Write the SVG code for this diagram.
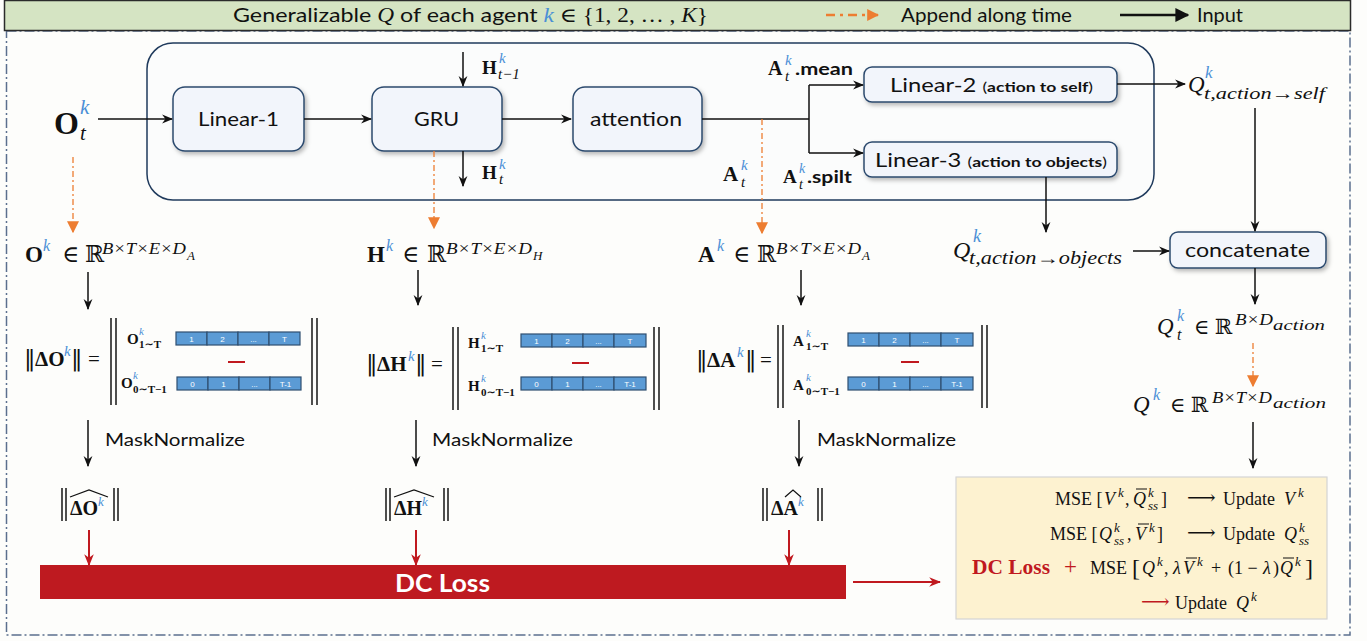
<svg xmlns="http://www.w3.org/2000/svg" width="1367" height="641" viewBox="0 0 1367 641">
<defs>
<style>
.sans{font-family:Lato,"Open Sans","Liberation Sans",sans-serif;fill:#111}
.ser{font-family:"Liberation Serif","DejaVu Serif",serif;fill:#111}
.dj{font-family:"DejaVu Serif",serif}
.it{font-style:italic}
.bd{font-weight:bold}
.nb{font-weight:normal}
.kb{fill:#4a8fd6}
.red{fill:#c0191f}
.node{fill:#f2f5fb;stroke:#2c4a6e;stroke-width:1.5;filter:url(#sh)}
.ln{fill:none;stroke:#111;stroke-width:1.5}
.or{fill:none;stroke:#ed7d31;stroke-width:1.3;stroke-dasharray:6 3 2 3}
.rd{fill:none;stroke:#c0191f;stroke-width:2}
.cell{fill:#5b9bd5;stroke:#2f4f70;stroke-width:1.2}
.ct{font-family:"Liberation Sans",sans-serif;font-size:8px;fill:#fff;text-anchor:middle}
.bar{stroke:#222;stroke-width:1.6}
.ovl{stroke:#111;stroke-width:1}
</style>
<filter id="sh" x="-10%" y="-10%" width="130%" height="140%"><feDropShadow dx="2" dy="2.5" stdDeviation="2" flood-color="#000" flood-opacity="0.28"/></filter>
<marker id="ah" viewBox="0 0 10 10" refX="9" refY="5" markerWidth="11" markerHeight="11" markerUnits="userSpaceOnUse" orient="auto"><path d="M0,1 L10,5 L0,9 L3,5 z" fill="#111"/></marker>
<marker id="ahr" viewBox="0 0 10 10" refX="9" refY="5" markerWidth="12" markerHeight="12" markerUnits="userSpaceOnUse" orient="auto"><path d="M0,1 L10,5 L0,9 L3,5 z" fill="#c0191f"/></marker>
<marker id="aho" viewBox="0 0 10 10" refX="9" refY="5" markerWidth="12" markerHeight="12" markerUnits="userSpaceOnUse" orient="auto"><path d="M0,0 L10,5 L0,10 z" fill="#ed7d31"/></marker>
<marker id="ahl" viewBox="0 0 10 10" refX="9" refY="5" markerWidth="14" markerHeight="14" markerUnits="userSpaceOnUse" orient="auto"><path d="M0,0 L10,5 L0,10 z" fill="#111"/></marker>
</defs>
<rect width="1367" height="641" fill="#fdfdfb"/>
<rect x="6.5" y="31" width="1343.5" height="604" fill="none" stroke="#5b6f8e" stroke-width="1.5" stroke-dasharray="10 3 2 3"/>
<g id="header">
<rect x="4.5" y="0.5" width="1346" height="30" fill="#d5e4c3" stroke="#2b2b2b" stroke-width="1.5"/>
<text x="233" y="22" class="sans" font-size="20" textLength="475" lengthAdjust="spacingAndGlyphs">Generalizable <tspan class="ser it">Q</tspan> of each agent <tspan class="ser it kb">k</tspan><tspan class="ser"> ∈ {1, 2, … , </tspan><tspan class="ser it">K</tspan><tspan class="ser">}</tspan></text>
<line x1="826" y1="15" x2="878" y2="15" stroke="#ed7d31" stroke-width="2.5" stroke-dasharray="9 5 3 5" marker-end="url(#aho)"/>
<text x="901" y="22" class="sans" font-size="20" textLength="171" lengthAdjust="spacingAndGlyphs">Append along time</text>
<line x1="1120" y1="15" x2="1188" y2="15" stroke="#111" stroke-width="2.5" marker-end="url(#ahl)"/>
<text x="1197" y="22" class="sans" font-size="20" textLength="46" lengthAdjust="spacingAndGlyphs">Input</text>
</g>
<g id="panel"><rect x="147" y="43" width="1007" height="157" rx="26" fill="#fbfcfc" stroke="#1f3a5c" stroke-width="1.5"/></g>
<g id="linear1"><rect class="node" x="173" y="87" width="131" height="64" rx="12"/><text x="198" y="126" class="sans" font-size="20" textLength="81" lengthAdjust="spacingAndGlyphs">Linear-1</text></g>
<g id="gru"><rect class="node" x="372" y="87" width="130" height="64" rx="12"/><text x="414" y="126" class="sans" font-size="20" textLength="45" lengthAdjust="spacingAndGlyphs">GRU</text></g>
<g id="attention"><rect class="node" x="573" y="87" width="129" height="64" rx="12"/><text x="590" y="126" class="sans" font-size="20" textLength="92" lengthAdjust="spacingAndGlyphs">attention</text></g>
<g id="linear2"><rect class="node" x="864" y="67" width="253" height="35" rx="8"/><text x="890" y="92" class="sans" font-size="19" textLength="203" lengthAdjust="spacingAndGlyphs">Linear-2 <tspan font-size="14">(</tspan><tspan font-size="14" font-weight="bold">action to self</tspan><tspan font-size="14">)</tspan></text></g>
<g id="linear3"><rect class="node" x="864" y="142" width="253" height="35" rx="8"/><text x="875" y="167" class="sans" font-size="19" textLength="232" lengthAdjust="spacingAndGlyphs">Linear-3 <tspan font-size="14">(</tspan><tspan font-size="14" font-weight="bold">action to objects</tspan><tspan font-size="14">)</tspan></text></g>
<g id="concatenate"><rect class="node" x="1170" y="232" width="156" height="36" rx="8"/><text x="1185" y="257" class="sans" font-size="20" textLength="125" lengthAdjust="spacingAndGlyphs">concatenate</text></g>

<g id="ot">
<text x="54" y="134" class="ser bd" font-size="32">O</text>
<text x="80" y="114" class="ser it kb" font-size="21">k</text>
<text x="80" y="140" class="ser it" font-size="21">t</text>
</g>
<g id="htm1">
<text x="482" y="74" class="ser bd" font-size="19">H</text>
<text x="499" y="63" class="ser it kb" font-size="15">k</text>
<text x="498" y="79" class="ser it" font-size="15">t−1</text>
</g>
<g id="ht">
<text x="482" y="179" class="ser bd" font-size="19">H</text>
<text x="499" y="169" class="ser it kb" font-size="15">k</text>
<text x="499" y="184" class="ser it" font-size="15">t</text>
</g>
<g id="amean">
<text x="768" y="75" class="ser bd" font-size="20">A</text>
<text x="785" y="65" class="ser it kb" font-size="15">k</text>
<text x="785" y="81" class="ser it" font-size="15">t</text>
<text x="795" y="75" class="sans bd" font-size="17" textLength="58" lengthAdjust="spacingAndGlyphs">.mean</text>
</g>
<g id="at">
<text x="723" y="181" class="ser bd" font-size="21">A</text>
<text x="741" y="170" class="ser it kb" font-size="15">k</text>
<text x="741" y="187" class="ser it" font-size="15">t</text>
</g>
<g id="aspilt">
<text x="783" y="183" class="ser bd" font-size="19">A</text>
<text x="799" y="173" class="ser it kb" font-size="14">k</text>
<text x="799" y="189" class="ser it" font-size="14">t</text>
<text x="807" y="183" class="sans bd" font-size="17" textLength="45" lengthAdjust="spacingAndGlyphs">.spilt</text>
</g>
<g id="qself">
<text x="1188" y="92" class="ser it" font-size="23">Q</text>
<text x="1205" y="78" class="ser it kb" font-size="17">k</text>
<text x="1204" y="99" class="ser it" font-size="17" textLength="121" lengthAdjust="spacingAndGlyphs">t,action→self</text>
</g>
<g id="qobj">
<text x="953" y="258" class="ser it" font-size="24">Q</text>
<text x="973" y="242" class="ser it kb" font-size="18">k</text>
<text x="969" y="264" class="ser it" font-size="18" textLength="153" lengthAdjust="spacingAndGlyphs">t,action→objects</text>
</g>
<g id="qt">
<text x="1157" y="334" class="ser it" font-size="23">Q</text>
<text x="1177" y="321" class="ser it kb" font-size="16">k</text>
<text x="1177" y="340" class="ser it" font-size="16">t</text>
<text x="1194" y="334" class="ser" font-size="21">∈ ℝ</text>
<text x="1235" y="325" class="ser it" font-size="16" textLength="38" lengthAdjust="spacingAndGlyphs">B×D</text>
<text x="1273" y="330" class="ser it" font-size="14" textLength="52" lengthAdjust="spacingAndGlyphs">action</text>
</g>
<g id="q">
<text x="1133" y="412" class="ser it" font-size="23">Q</text>
<text x="1153" y="400" class="ser it kb" font-size="16">k</text>
<text x="1170" y="412" class="ser" font-size="21">∈ ℝ</text>
<text x="1212" y="403" class="ser it" font-size="16" textLength="60" lengthAdjust="spacingAndGlyphs">B×T×D</text>
<text x="1273" y="408" class="ser it" font-size="14" textLength="53" lengthAdjust="spacingAndGlyphs">action</text>
</g>

<g id="colO">
<text y="262" class="ser" font-size="23"><tspan x="25" font-weight="bold">O</tspan><tspan x="43" y="251" class="it kb" font-size="16">k</tspan><tspan x="62" y="262">∈</tspan><tspan x="85">ℝ</tspan></text>
<text x="102" y="254" class="ser it" font-size="17" textLength="84" lengthAdjust="spacingAndGlyphs">B×T×E×D</text>
<text x="187" y="260" class="ser it" font-size="13">A</text>
<text y="366" class="ser" font-size="21"><tspan x="24" class="dj" font-size="23">‖</tspan><tspan x="35" font-weight="bold">ΔO</tspan><tspan x="64" y="356" class="it kb" font-size="15">k</tspan><tspan x="71" y="366" class="dj" font-size="23">‖</tspan><tspan x="88">=</tspan></text>
<line class="bar" x1="111" y1="318" x2="111" y2="405"/><line class="bar" x1="116" y1="318" x2="116" y2="405"/>
<line class="bar" x1="312" y1="318" x2="312" y2="405"/><line class="bar" x1="317" y1="318" x2="317" y2="405"/>
<text x="127" y="344" class="ser bd" font-size="15">O</text><text x="139" y="335" class="ser it kb" font-size="11">k</text><text x="139" y="348" class="ser bd" font-size="11">1∼T</text>
<text x="121" y="388" class="ser bd" font-size="15">O</text><text x="133" y="379" class="ser it kb" font-size="11">k</text><text x="133" y="393" class="ser bd" font-size="11">0∼T−1</text>
<g><rect class="cell" x="176" y="332" width="31" height="13"/><rect class="cell" x="207" y="332" width="31" height="13"/><rect class="cell" x="238" y="332" width="31" height="13"/><rect class="cell" x="269" y="332" width="31" height="13"/>
<text class="ct" x="191.5" y="342">1</text><text class="ct" x="222.5" y="342">2</text><text class="ct" x="253.5" y="342">...</text><text class="ct" x="284.5" y="342">T</text></g>
<line x1="228" y1="362" x2="245" y2="362" stroke="#c0191f" stroke-width="2"/>
<g><rect class="cell" x="177" y="377" width="31" height="13"/><rect class="cell" x="208" y="377" width="31" height="13"/><rect class="cell" x="239" y="377" width="31" height="13"/><rect class="cell" x="270" y="377" width="31" height="13"/>
<text class="ct" x="192.5" y="387">0</text><text class="ct" x="223.5" y="387">1</text><text class="ct" x="254.5" y="387">...</text><text class="ct" x="285.5" y="387">T-1</text></g>
<text x="105" y="446" class="sans" font-size="18" textLength="140" lengthAdjust="spacingAndGlyphs">MaskNormalize</text>
<line class="bar" x1="62" y1="488" x2="62" y2="521"/><line class="bar" x1="66" y1="488" x2="66" y2="521"/>
<line class="bar" x1="114" y1="488" x2="114" y2="521"/><line class="bar" x1="118" y1="488" x2="118" y2="521"/>
<text x="70" y="515" class="ser bd" font-size="20">ΔO<tspan class="it kb nb" font-size="13" dy="-9">k</tspan></text>
<polyline points="70,497 89,490 108,497" fill="none" stroke="#111" stroke-width="1.2"/>
</g>

<g id="colH">
<text y="262" class="ser" font-size="23"><tspan x="367" font-weight="bold">H</tspan><tspan x="386" y="251" class="it kb" font-size="16">k</tspan><tspan x="402" y="262">∈</tspan><tspan x="427">ℝ</tspan></text>
<text x="446" y="254" class="ser it" font-size="17" textLength="86" lengthAdjust="spacingAndGlyphs">B×T×E×D</text>
<text x="533" y="260" class="ser it" font-size="13">H</text>
<text y="371" class="ser" font-size="21"><tspan x="366" class="dj" font-size="23">‖</tspan><tspan x="377" font-weight="bold">ΔH</tspan><tspan x="408" y="361" class="it kb" font-size="15">k</tspan><tspan x="415" y="371" class="dj" font-size="23">‖</tspan><tspan x="431">=</tspan></text>
<line class="bar" x1="453" y1="327" x2="453" y2="410"/><line class="bar" x1="458" y1="327" x2="458" y2="410"/>
<line class="bar" x1="654" y1="327" x2="654" y2="410"/><line class="bar" x1="659" y1="327" x2="659" y2="410"/>
<text x="468" y="348" class="ser bd" font-size="15">H</text><text x="481" y="339" class="ser it kb" font-size="11">k</text><text x="481" y="352" class="ser bd" font-size="11">1∼T</text>
<text x="468" y="391" class="ser bd" font-size="15">H</text><text x="481" y="382" class="ser it kb" font-size="11">k</text><text x="481" y="396" class="ser bd" font-size="11">0∼T−1</text>
<g><rect class="cell" x="521" y="334" width="31" height="13"/><rect class="cell" x="552" y="334" width="31" height="13"/><rect class="cell" x="583" y="334" width="31" height="13"/><rect class="cell" x="614" y="334" width="32" height="13"/>
<text class="ct" x="536.5" y="344">1</text><text class="ct" x="567.5" y="344">2</text><text class="ct" x="598.5" y="344">...</text><text class="ct" x="630" y="344">T</text></g>
<line x1="572" y1="363" x2="589" y2="363" stroke="#c0191f" stroke-width="2"/>
<g><rect class="cell" x="521" y="377" width="31" height="13"/><rect class="cell" x="552" y="377" width="31" height="13"/><rect class="cell" x="583" y="377" width="31" height="13"/><rect class="cell" x="614" y="377" width="32" height="13"/>
<text class="ct" x="536.5" y="387">0</text><text class="ct" x="567.5" y="387">1</text><text class="ct" x="598.5" y="387">...</text><text class="ct" x="630" y="387">T-1</text></g>
<text x="432" y="446" class="sans" font-size="18" textLength="141" lengthAdjust="spacingAndGlyphs">MaskNormalize</text>
<line class="bar" x1="386" y1="488" x2="386" y2="521"/><line class="bar" x1="390" y1="488" x2="390" y2="521"/>
<line class="bar" x1="444" y1="488" x2="444" y2="521"/><line class="bar" x1="448" y1="488" x2="448" y2="521"/>
<text x="394" y="515" class="ser bd" font-size="20">ΔH<tspan class="it kb nb" font-size="13" dy="-9">k</tspan></text>
<polyline points="394,497 414,490 434,497" fill="none" stroke="#111" stroke-width="1.2"/>
</g>

<g id="colA">
<text y="262" class="ser" font-size="23"><tspan x="698" font-weight="bold">A</tspan><tspan x="717" y="251" class="it kb" font-size="16">k</tspan><tspan x="733" y="262">∈</tspan><tspan x="757">ℝ</tspan></text>
<text x="776" y="254" class="ser it" font-size="17" textLength="85" lengthAdjust="spacingAndGlyphs">B×T×E×D</text>
<text x="862" y="260" class="ser it" font-size="13">A</text>
<text y="367" class="ser" font-size="21"><tspan x="696" class="dj" font-size="23">‖</tspan><tspan x="707" font-weight="bold">ΔA</tspan><tspan x="737" y="357" class="it kb" font-size="15">k</tspan><tspan x="745" y="367" class="dj" font-size="23">‖</tspan><tspan x="760">=</tspan></text>
<line class="bar" x1="778" y1="325" x2="778" y2="408"/><line class="bar" x1="783" y1="325" x2="783" y2="408"/>
<line class="bar" x1="982" y1="325" x2="982" y2="408"/><line class="bar" x1="987" y1="325" x2="987" y2="408"/>
<text x="793" y="346" class="ser bd" font-size="15">A</text><text x="806" y="337" class="ser it kb" font-size="11">k</text><text x="806" y="350" class="ser bd" font-size="11">1∼T</text>
<text x="793" y="390" class="ser bd" font-size="15">A</text><text x="806" y="381" class="ser it kb" font-size="11">k</text><text x="806" y="395" class="ser bd" font-size="11">0∼T−1</text>
<g><rect class="cell" x="848" y="333" width="31" height="13"/><rect class="cell" x="879" y="333" width="31" height="13"/><rect class="cell" x="910" y="333" width="31" height="13"/><rect class="cell" x="941" y="333" width="32" height="13"/>
<text class="ct" x="863.5" y="343">1</text><text class="ct" x="894.5" y="343">2</text><text class="ct" x="925.5" y="343">...</text><text class="ct" x="957" y="343">T</text></g>
<line x1="901" y1="362" x2="919" y2="362" stroke="#c0191f" stroke-width="2"/>
<g><rect class="cell" x="848" y="377" width="31" height="13"/><rect class="cell" x="879" y="377" width="31" height="13"/><rect class="cell" x="910" y="377" width="31" height="13"/><rect class="cell" x="941" y="377" width="32" height="13"/>
<text class="ct" x="863.5" y="387">0</text><text class="ct" x="894.5" y="387">1</text><text class="ct" x="925.5" y="387">...</text><text class="ct" x="957" y="387">T-1</text></g>
<text x="817" y="446" class="sans" font-size="18" textLength="139" lengthAdjust="spacingAndGlyphs">MaskNormalize</text>
<line class="bar" x1="763" y1="488" x2="763" y2="521"/><line class="bar" x1="767" y1="488" x2="767" y2="521"/>
<line class="bar" x1="818" y1="488" x2="818" y2="521"/><line class="bar" x1="822" y1="488" x2="822" y2="521"/>
<text x="771" y="515" class="ser bd" font-size="20">ΔA<tspan class="it kb nb" font-size="13" dy="-9">k</tspan></text>
<polyline points="785,497 793,490 801,497" fill="none" stroke="#111" stroke-width="1.2"/>
</g>

<g id="dcloss"><rect x="40" y="565" width="806" height="34" fill="#be1a20"/><text x="395" y="592" class="sans bd" font-size="25" style="fill:#fff" textLength="95" lengthAdjust="spacingAndGlyphs">DC Loss</text></g>

<g id="update">
<rect x="956" y="477" width="371" height="142" fill="#fdf2d0" stroke="#d4d4d4" stroke-width="1.2"/>
<text y="505" class="ser" font-size="18"><tspan x="1055">MSE [</tspan><tspan x="1104" class="it">V</tspan><tspan x="1118" y="497" class="it" font-size="13">k</tspan><tspan x="1125" y="505">,</tspan><tspan x="1133" class="it">Q</tspan><tspan x="1148" y="497" class="it" font-size="13">k</tspan><tspan x="1148" y="510" class="it" font-size="13">ss</tspan><tspan x="1161" y="505">]</tspan></text>
<line class="ovl" x1="1136" y1="489" x2="1147" y2="489"/>
<text x="1187" y="504" class="ser" font-size="20">⟶</text>
<text y="505" class="ser" font-size="18"><tspan x="1223">Update</tspan><tspan x="1284" class="it">V</tspan><tspan x="1298" y="497" class="it" font-size="13">k</tspan></text>
<text y="540" class="ser" font-size="18"><tspan x="1050">MSE [</tspan><tspan x="1099" class="it">Q</tspan><tspan x="1114" y="532" class="it" font-size="13">k</tspan><tspan x="1114" y="545" class="it" font-size="13">ss</tspan><tspan x="1127" y="540">,</tspan><tspan x="1135" class="it">V</tspan><tspan x="1149" y="532" class="it" font-size="13">k</tspan><tspan x="1157" y="540">]</tspan></text>
<line class="ovl" x1="1138" y1="524" x2="1149" y2="524"/>
<text x="1187" y="539" class="ser" font-size="20">⟶</text>
<text y="540" class="ser" font-size="18"><tspan x="1223">Update</tspan><tspan x="1284" class="it">Q</tspan><tspan x="1299" y="532" class="it" font-size="13">k</tspan><tspan x="1299" y="545" class="it" font-size="13">ss</tspan></text>
<text x="972" y="574" class="ser bd red" font-size="21" textLength="78" lengthAdjust="spacingAndGlyphs">DC Loss</text>
<text x="1064" y="574" class="ser red" font-size="23">+</text>
<text y="574" class="ser" font-size="18"><tspan x="1090">MSE</tspan><tspan x="1132" y="576" font-size="24">[</tspan><tspan x="1142" y="574" class="it">Q</tspan><tspan x="1157" y="566" class="it" font-size="13">k</tspan><tspan x="1164" y="574">,</tspan><tspan x="1173" class="it">λ</tspan><tspan x="1183" class="it">V</tspan><tspan x="1197" y="566" class="it" font-size="13">k</tspan><tspan x="1211" y="574">+</tspan><tspan x="1228">(1 − </tspan><tspan x="1263" class="it">λ</tspan><tspan x="1273">)</tspan><tspan x="1280" class="it">Q</tspan><tspan x="1295" y="566" class="it" font-size="13">k</tspan><tspan x="1305" y="576" font-size="24">]</tspan></text>
<line class="ovl" x1="1186" y1="558" x2="1197" y2="558"/>
<line class="ovl" x1="1283" y1="558" x2="1294" y2="558"/>
<text x="1141" y="608" class="ser red" font-size="20">⟶</text>
<text y="609" class="ser" font-size="18"><tspan x="1175">Update</tspan><tspan x="1236" class="it">Q</tspan><tspan x="1251" y="601" class="it" font-size="13">k</tspan></text>
</g>

<g id="connectors">
<path class="ln" d="M98,119 H172" marker-end="url(#ah)"/>
<path class="ln" d="M304,119 H371" marker-end="url(#ah)"/>
<path class="ln" d="M502,119 H571" marker-end="url(#ah)"/>
<path class="ln" d="M702,119 H809"/>
<path class="ln" d="M809,85 V153"/>
<path class="ln" d="M809,85 H863" marker-end="url(#ah)"/>
<path class="ln" d="M809,153 H863" marker-end="url(#ah)"/>
<path class="ln" d="M463,52 V86" marker-end="url(#ah)"/>
<path class="ln" d="M463,151 V186" marker-end="url(#ah)"/>
<path class="ln" d="M1117,84 H1185" marker-end="url(#ah)"/>
<path class="ln" d="M1255,108 V231" marker-end="url(#ah)"/>
<path class="ln" d="M1046,177 V232" marker-end="url(#ah)"/>
<path class="ln" d="M1133,251 H1169" marker-end="url(#ah)"/>
<path class="ln" d="M1255,268 V304" marker-end="url(#ah)"/>
<path class="or" d="M1253,343 V386" marker-end="url(#aho)"/>
<path class="ln" d="M1253,422 V468" marker-end="url(#ah)"/>
<path class="or" d="M73,157 V232" marker-end="url(#aho)"/>
<path class="ln" d="M88,272 V309" marker-end="url(#ah)"/>
<path class="ln" d="M88,420 V466" marker-end="url(#ah)"/>
<path class="rd" d="M89,530 V565" marker-end="url(#ahr)"/>
<path class="or" d="M434,151 V228" marker-end="url(#aho)"/>
<path class="ln" d="M418,270 V305" marker-end="url(#ah)"/>
<path class="ln" d="M416,420 V466" marker-end="url(#ah)"/>
<path class="rd" d="M416,530 V565" marker-end="url(#ahr)"/>
<path class="or" d="M762,119 V233" marker-end="url(#aho)"/>
<path class="ln" d="M801,270 V305" marker-end="url(#ah)"/>
<path class="ln" d="M799,420 V466" marker-end="url(#ah)"/>
<path class="rd" d="M789,530 V565" marker-end="url(#ahr)"/>
<path class="rd" d="M853,582 H940" marker-end="url(#ahr)"/>
</g>
</svg>
